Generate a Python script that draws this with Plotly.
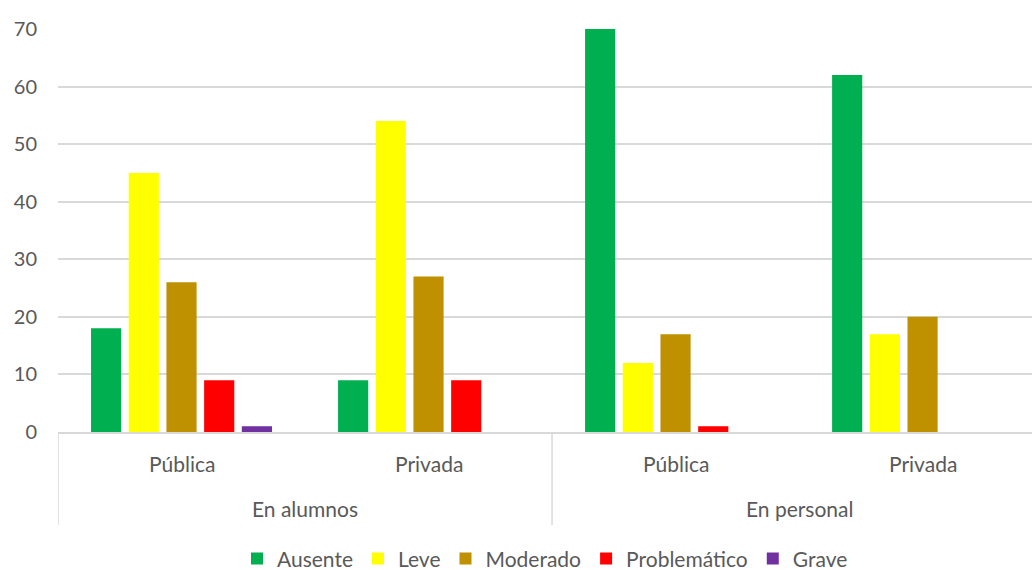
import plotly.graph_objects as go

groups = ["En alumnos", "En personal"]
subcats = ["Pública", "Privada", "Pública", "Privada"]
categories = ["En alumnos|Pública", "En alumnos|Privada", "En personal|Pública", "En personal|Privada"]
series_names = ["Ausente", "Leve", "Moderado", "Problemático", "Grave"]
ausente = [18, 9, 70, 62]
leve = [45, 54, 12, 17]
moderado = [26, 27, 17, 20]
problematico = [9, 9, 1, 0]
grave = [1, 0, 0, 0]
colors = ["#00B050", "#FFFF00", "#BF9000", "#FF0000", "#7030A0"]
y_ticks = [0, 10, 20, 30, 40, 50, 60, 70]

font = "Lato, 'Open Sans', sans-serif"
txt = "#595959"
line = "#D9D9D9"

fig = go.Figure()
for name, vals, col in zip(series_names, [ausente, leve, moderado, problematico, grave], colors):
    fig.add_trace(go.Bar(name=name, x=categories, y=vals, marker_color=col,
                         marker_line_width=0))

# sub-category labels
for i, s in enumerate(subcats):
    fig.add_annotation(x=i, y=-0.077, xref="x", yref="paper", text=s, showarrow=False,
                       xanchor="center", yanchor="middle", font=dict(size=21, color=txt))
# group labels
for j, g in enumerate(groups):
    fig.add_annotation(x=2 * j + 0.5, y=-0.191, xref="x", yref="paper", text=g, showarrow=False,
                       xanchor="center", yanchor="middle", font=dict(size=21, color=txt))
# group dividers
for xd in [-0.5, 1.5]:
    fig.add_shape(type="line", x0=xd, x1=xd, xref="x", y0=0, y1=-0.231, yref="paper",
                  line=dict(color=line, width=1.5))

fig.update_layout(
    width=1032, height=570,
    margin=dict(l=58, r=0, t=29, b=138, autoexpand=False),
    paper_bgcolor="white", plot_bgcolor="white",
    barmode="group", bargap=0.237, bargroupgap=0.2,
    font=dict(family=font, size=20, color=txt),
    showlegend=True,
    legend=dict(orientation="h", x=0.5, xanchor="center", y=-0.315, yanchor="middle",
                font=dict(size=21, color=txt), itemwidth=30, traceorder="normal"),
)
fig.update_yaxes(range=[0, 70], tickvals=y_ticks, showgrid=True, gridcolor=line,
                 gridwidth=1.5, zeroline=False, showline=False, ticks="", ticklabelstandoff=20,
                 automargin=False, tickfont=dict(size=20, color=txt))
fig.update_xaxes(type="category", range=[-0.5, 3.443], showline=True, linecolor=line, linewidth=1.5,
                 showticklabels=False, ticks="", automargin=False)
fig.write_html("out.html", config={"displayModeBar": False},
               post_script="document.body.style.margin='0';document.body.style.overflow='hidden';")
